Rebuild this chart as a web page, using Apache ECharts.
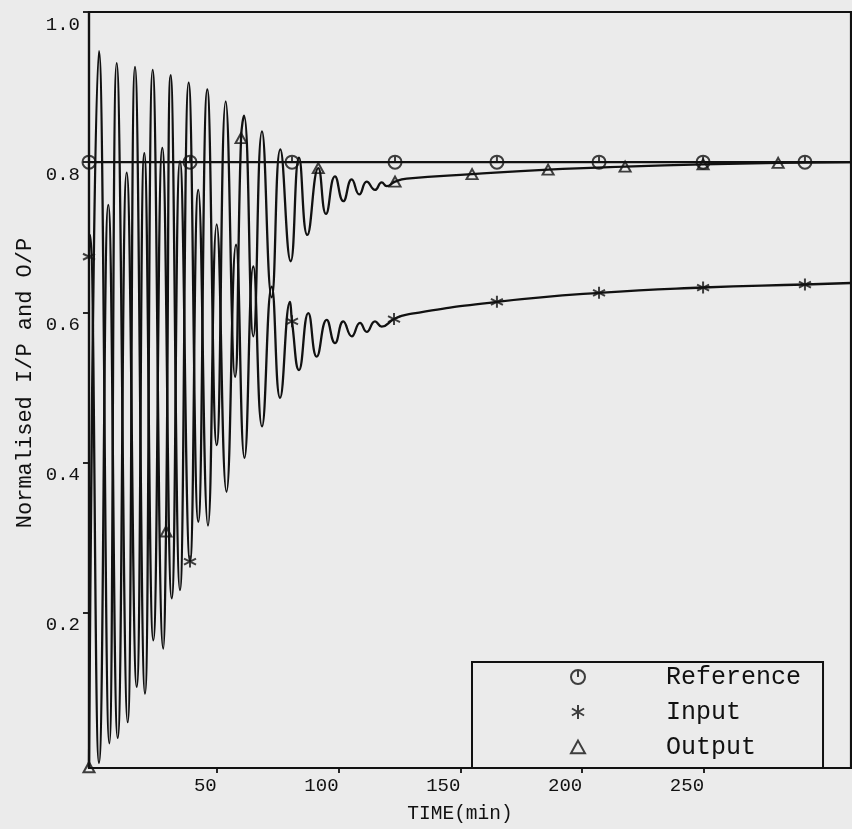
<!DOCTYPE html>
<html><head><meta charset="utf-8">
<script src="https://cdn.jsdelivr.net/npm/echarts@6/dist/echarts.min.js"></script>
<style>html,body{margin:0;padding:0;background:#ebebeb}#chart{width:852px;height:829px}</style>
</head><body><div id="chart"></div>
<script>
// ---- data ----
const timeTicks = [50, 100, 150, 200, 250];
const valueTicks = [0.2, 0.4, 0.6, 0.8, 1.0];

const referenceTime = [-2.4, 310.3];
const referenceValue = [0.8, 0.8];
const referenceMarkTime = [-2.4, 39.05, 80.91, 123.18, 165.0, 206.9, 249.6, 291.4];
const referenceMarkValue = [0.8, 0.8, 0.8, 0.8, 0.8, 0.8, 0.8, 0.8];

const inputTime = [-2.4, -1.99, 1.7, 5.52, 9.38, 13.07, 17.17, 20.29, 23.99, 27.68, 31.54, 34.94, 39.05, 42.45, 46.43, 50.01, 54.03, 57.93, 61.41, 65.03, 68.59, 72.57, 76.0, 80.09, 80.91, 83.78, 87.6, 91.04, 95.15, 98.55, 101.96, 105.41, 108.81, 111.56, 114.97, 117.72, 122.77, 128.0, 165.0, 206.9, 249.6, 291.4, 310.3];
const inputValue = [0.674, 0.703, 0.0, 0.743, 0.033, 0.786, 0.101, 0.812, 0.163, 0.819, 0.219, 0.801, 0.268, 0.763, 0.316, 0.717, 0.361, 0.69, 0.406, 0.661, 0.448, 0.634, 0.486, 0.614, 0.588, 0.523, 0.599, 0.541, 0.59, 0.559, 0.588, 0.568, 0.586, 0.574, 0.588, 0.581, 0.591, 0.597, 0.614, 0.626, 0.633, 0.637, 0.639];
const inputMarkTime = [-2.4, 39.05, 80.91, 122.77, 165.0, 206.9, 249.6, 291.4];
const inputMarkValue = [0.674, 0.268, 0.588, 0.591, 0.614, 0.626, 0.633, 0.637];

const outputTime = [-2.4, 1.7, 5.93, 8.97, 13.48, 16.48, 20.58, 23.74, 28.09, 29.2, 31.13, 34.94, 38.51, 42.45, 46.15, 50.01, 53.7, 57.52, 60.0, 61.21, 65.03, 68.59, 72.57, 76.11, 80.37, 83.78, 87.19, 91.7, 94.86, 98.55, 101.96, 105.41, 108.53, 111.56, 114.97, 117.72, 119.77, 123.18, 128.0, 154.8, 186.0, 217.6, 249.6, 280.4, 310.3];
const outputValue = [-0.006, 0.948, 0.026, 0.932, 0.054, 0.927, 0.092, 0.923, 0.152, 0.308, 0.916, 0.23, 0.906, 0.321, 0.897, 0.423, 0.881, 0.514, 0.832, 0.862, 0.568, 0.841, 0.62, 0.817, 0.668, 0.806, 0.703, 0.792, 0.731, 0.781, 0.748, 0.777, 0.757, 0.774, 0.763, 0.773, 0.768, 0.774, 0.778, 0.784, 0.79, 0.794, 0.797, 0.799, 0.8];
const outputMarkTime = [-2.4, 29.2, 60.0, 91.7, 123.18, 154.8, 186.0, 217.6, 249.6, 280.4];
const outputMarkValue = [-0.006, 0.308, 0.832, 0.792, 0.774, 0.784, 0.79, 0.794, 0.797, 0.799];

const seriesNames = ['Reference', 'Input', 'Output'];
const xAxisTitle = 'TIME(min)';
const yAxisTitle = 'Normalised I/P and O/P';

// ---- styling ----
const INK = '#111111';
const BG = '#ebebeb';
const FONT = "'Liberation Mono', 'DejaVu Sans Mono', monospace";
const circleIcon = 'path://M12,1 A11,11 0 1,1 12,23 A11,11 0 1,1 12,1 Z M12,1 L12,12';
const starIcon = 'path://M12,0 L12,24 M1.6,6 L22.4,18 M1.6,18 L22.4,6';
const triIcon = 'path://M12,2 L23,22 L1,22 Z';

const zip = (a, b) => a.map((v, i) => [v, b[i]]);

const markerStyle = { color: 'rgba(0,0,0,0)', borderColor: INK, borderWidth: 2 };
const lineBase = {
  type: 'line', showSymbol: false, smooth: 0.5, clip: true, z: 2,
  lineStyle: { color: INK, width: 2.3 }, itemStyle: { color: INK }, emphasis: { disabled: true }
};
const scatterBase = {
  type: 'scatter', clip: false, z: 4, itemStyle: markerStyle, emphasis: { disabled: true }
};

const chart = echarts.init(document.getElementById('chart'), null, { renderer: 'canvas' });
chart.setOption({
  backgroundColor: BG,
  animation: false,
  grid: {
    left: 89, right: 1, top: 12, bottom: 61,
    show: true, borderColor: INK, borderWidth: 2.2, backgroundColor: 'transparent',
    outerBoundsMode: 'none'
  },
  xAxis: {
    type: 'value', min: -2.4, max: 310.3,
    name: xAxisTitle, nameLocation: 'middle', nameGap: 36, nameMoveOverlap: false,
    nameTextStyle: { fontFamily: FONT, fontSize: 19.5, color: INK, padding: [0, 20, 0, 0] },
    axisLine: { show: true, onZero: false, lineStyle: { color: INK, width: 2.2 } },
    axisTick: { show: true, customValues: timeTicks, length: 5, inside: false, lineStyle: { color: INK, width: 1.8 } },
    axisLabel: { customValues: timeTicks, align: 'right', margin: 8, fontFamily: FONT, fontSize: 19, color: INK },
    splitLine: { show: false }
  },
  yAxis: {
    type: 'value', min: -0.007, max: 1.0,
    name: yAxisTitle, nameLocation: 'middle', nameRotate: 90, nameGap: 53, nameMoveOverlap: false,
    nameTextStyle: { fontFamily: FONT, fontSize: 22, color: INK, padding: [0, 0, 0, 14] },
    axisLine: { show: true, onZero: false, lineStyle: { color: INK, width: 2.2 } },
    axisTick: { show: true, customValues: valueTicks, length: 6, inside: false, lineStyle: { color: INK, width: 1.8 } },
    axisLabel: {
      customValues: valueTicks, formatter: v => Number(v).toFixed(1),
      verticalAlign: 'top', padding: [3, 0, 0, 0], margin: 9,
      fontFamily: FONT, fontSize: 19, color: INK
    },
    splitLine: { show: false }
  },
  legend: {
    orient: 'vertical', left: 472, top: 662,
    padding: [1, 22, 7, 98],
    itemWidth: 14, itemHeight: 14, itemGap: 7,
    borderColor: INK, borderWidth: 2, backgroundColor: BG,
    selectedMode: false,
    textStyle: { fontFamily: FONT, fontSize: 25, color: INK, lineHeight: 28, padding: [0, 0, 0, 76] },
    itemStyle: { color: 'rgba(0,0,0,0)', borderColor: INK, borderWidth: 2 },
    data: [
      { name: seriesNames[0], icon: circleIcon },
      { name: seriesNames[1], icon: starIcon },
      { name: seriesNames[2], icon: triIcon }
    ]
  },
  series: [
    Object.assign({}, scatterBase, { name: seriesNames[0], symbol: circleIcon, symbolSize: 13, data: zip(referenceMarkTime, referenceMarkValue) }),
    Object.assign({}, scatterBase, { name: seriesNames[1], symbol: starIcon, symbolSize: 12, data: zip(inputMarkTime, inputMarkValue) }),
    Object.assign({}, scatterBase, { name: seriesNames[2], symbol: triIcon, symbolSize: [11, 10], data: zip(outputMarkTime, outputMarkValue) }),
    Object.assign({}, lineBase, { name: seriesNames[0], smooth: false, data: zip(referenceTime, referenceValue) }),
    Object.assign({}, lineBase, { name: seriesNames[1], data: zip(inputTime, inputValue) }),
    Object.assign({}, lineBase, { name: seriesNames[2], data: zip(outputTime, outputValue) })
  ]
});
</script>
</body></html>
